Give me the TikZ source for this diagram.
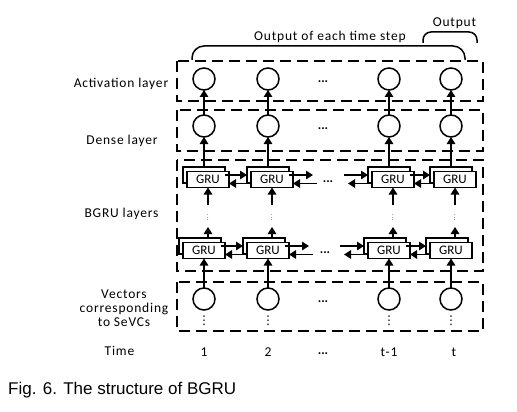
\documentclass[tikz,border=0pt]{standalone}
\usepackage{fontspec}
\setmainfont{Carlito}
\newfontfamily\spacedfont{Carlito}[LetterSpace=6]
\newfontfamily\captionfont{Liberation Sans}
\newfontfamily\symfont{DejaVu Sans}
\usetikzlibrary{positioning,arrows.meta}

\begin{document}
\begin{tikzpicture}[
    x=1pt, y=1pt,
    unit/.style={circle, draw, line width=1.5pt, minimum size=22pt, inner sep=0pt, outer sep=0pt},
    gruback/.style={rectangle, draw, fill=white, line width=1.5pt, minimum width=42pt, minimum height=16pt, inner sep=0pt, outer sep=0pt},
    grufront/.style={gruback, font=\fontsize{13}{13}\selectfont},
    layer/.style={draw, line width=1.8pt, dash pattern=on 11pt off 6pt},
    rowname/.style={font=\spacedfont\fontsize{13.5}{14}\selectfont, align=center, inner sep=0pt},
    tick/.style={font=\spacedfont\fontsize{13.5}{14}\selectfont, inner sep=0pt, outer sep=0pt, text height=9pt, text depth=2pt},
    hdots/.style={font=\bfseries\fontsize{13}{13}\selectfont, inner sep=0pt, outer sep=0pt, minimum width=12pt, text height=9pt, text depth=3pt},
    vgap/.style={inner sep=0pt, outer sep=0pt, minimum width=4pt, minimum height=22pt},
    vtail/.style={font=\symfont\fontsize{12}{12}\selectfont, inner sep=0pt, outer sep=0pt},
    brace/.style={line width=1.5pt},
    captext/.style={font=\captionfont\fontsize{17}{17}\selectfont, inner sep=0pt, anchor=base west},
    arrow/.style={-{Triangle[length=7pt,width=8.5pt]}, line width=1.5pt}
]
\useasboundingbox (0,0) rectangle (517,-412);

% Layer frames
\draw[layer] (177,-61) rectangle (483,-101);
\draw[layer] (177,-110) rectangle (483,-151);
\draw[layer] (177,-160) rectangle (483,-271);
\draw[layer] (177,-282) rectangle (483,-331);

% Row 1: activation layer
\node[unit] (act1) at (204,-79) {};
\node[unit, right=42pt of act1] (act2) {};
\node[unit, right=99pt of act2] (act3) {};
\node[unit, right=40pt of act3] (act4) {};
\node[hdots, right=38pt of act2] (actdots) {...};

% Row 2: dense layer
\node[unit, below=25pt of act1] (dense1) {};
\node[unit, below=25pt of act2] (dense2) {};
\node[unit, below=25pt of act3] (dense3) {};
\node[unit, below=25pt of act4] (dense4) {};
\node[hdots, below=35pt of actdots] (densedots) {...};

% Row 5: vectors of the SeVCs
\node[unit, below=151pt of dense1] (vec1) {};
\node[unit, below=151pt of dense2] (vec2) {};
\node[unit, below=151pt of dense3] (vec3) {};
\node[unit, below=151pt of dense4] (vec4) {};
\node[hdots, below=161pt of densedots] (vecdots) {...};
\node[vtail, below=6pt of vec1] (tail1) {⋮};
\node[vtail, below=6pt of vec2] (tail2) {⋮};
\node[vtail, below=6pt of vec3] (tail3) {⋮};
\node[vtail, below=6pt of vec4] (tail4) {⋮};

% Row 3: upper BGRU layer (back copy, then front box)
\node[gruback, below=30pt of dense1] (tb1) {};
\node[grufront, xshift=4pt, yshift=-4.5pt] (tf1) at (tb1) {GRU};
\node[gruback, below=30pt of dense2] (tb2) {};
\node[grufront, xshift=4pt, yshift=-4.5pt] (tf2) at (tb2) {GRU};
\node[gruback, below=30pt of dense3] (tb3) {};
\node[grufront, xshift=4pt, yshift=-4.5pt] (tf3) at (tb3) {GRU};
\node[gruback, below=30pt of dense4] (tb4) {};
\node[grufront, xshift=4pt, yshift=-4.5pt] (tf4) at (tb4) {GRU};
\node[hdots, right=29pt of tf2] (topdots) {...};

% Row 4: lower BGRU layer
\node[gruback, above=34pt of vec1, xshift=-4pt] (bb1) {};
\node[grufront, xshift=4pt, yshift=-4.5pt] (bf1) at (bb1) {GRU};
\node[gruback, above=34pt of vec2, xshift=-4pt] (bb2) {};
\node[grufront, xshift=4pt, yshift=-4.5pt] (bf2) at (bb2) {GRU};
\node[gruback, above=34pt of vec3, xshift=-4pt] (bb3) {};
\node[grufront, xshift=4pt, yshift=-4.5pt] (bf3) at (bb3) {GRU};
\node[gruback, above=34pt of vec4, xshift=-4pt] (bb4) {};
\node[grufront, xshift=4pt, yshift=-4.5pt] (bf4) at (bb4) {GRU};
\node[hdots, right=30pt of bf2] (botdots) {...};

% Stacked layers in between
\node[vgap, below=17.5pt of tf1] (mid1) {\scalebox{0.6}{$\vdots$}};
\node[vgap, below=17.5pt of tf2] (mid2) {\scalebox{0.6}{$\vdots$}};
\node[vgap, below=17.5pt of tf3] (mid3) {\scalebox{0.6}{$\vdots$}};
\node[vgap, below=17.5pt of tf4] (mid4) {\scalebox{0.6}{$\vdots$}};

% Open ends next to the dots
\coordinate[right=24pt of tb2] (tbout);
\coordinate[right=24pt of tf2, yshift=-4pt] (tfin);
\coordinate[left=24pt of tb3] (tbin);
\coordinate[left=24pt of tf3, yshift=-4pt] (tfout);
\coordinate[right=24pt of bb2] (bbout);
\coordinate[right=24pt of bf2, yshift=-4pt] (bfin);
\coordinate[left=24pt of bb3] (bbin);
\coordinate[left=24pt of bf3, yshift=-4pt] (bfout);

% Upward flow in each column
\draw[arrow] (vec1.north) -- (vec1.north |- bf1.south);
\draw[arrow] (vec2.north) -- (vec2.north |- bf2.south);
\draw[arrow] (vec3.north) -- (vec3.north |- bf3.south);
\draw[arrow] (vec4.north) -- (vec4.north |- bf4.south);
\draw[arrow] (bb1.north -| mid1) -- (mid1.south);
\draw[arrow] (bb2.north -| mid2) -- (mid2.south);
\draw[arrow] (bb3.north -| mid3) -- (mid3.south);
\draw[arrow] (bb4.north -| mid4) -- (mid4.south);
\draw[arrow] (mid1.north) -- (tf1.south);
\draw[arrow] (mid2.north) -- (tf2.south);
\draw[arrow] (mid3.north) -- (tf3.south);
\draw[arrow] (mid4.north) -- (tf4.south);
\draw[arrow] (tb1.north) -- (dense1.south);
\draw[arrow] (tb2.north) -- (dense2.south);
\draw[arrow] (tb3.north) -- (dense3.south);
\draw[arrow] (tb4.north) -- (dense4.south);
\draw[arrow] (dense1.north) -- (act1.south);
\draw[arrow] (dense2.north) -- (act2.south);
\draw[arrow] (dense3.north) -- (act3.south);
\draw[arrow] (dense4.north) -- (act4.south);

% Forward and backward links, upper layer
\draw[arrow] (tb1.east) -- (tb2.west);
\draw[arrow] ([yshift=-4pt]tf2.west) -- ([yshift=-4pt]tf1.east);
\draw[arrow] (tb2.east) -- (tbout);
\draw[arrow] (tfin) -- ([yshift=-4pt]tf2.east);
\draw[arrow] (tbin) -- (tb3.west);
\draw[arrow] ([yshift=-4pt]tf3.west) -- (tfout);
\draw[arrow] (tb3.east) -- (tb4.west);
\draw[arrow] ([yshift=-4pt]tf4.west) -- ([yshift=-4pt]tf3.east);

% Forward and backward links, lower layer
\draw[arrow] (bb1.east) -- (bb2.west);
\draw[arrow] ([yshift=-4pt]bf2.west) -- ([yshift=-4pt]bf1.east);
\draw[arrow] (bb2.east) -- (bbout);
\draw[arrow] (bfin) -- ([yshift=-4pt]bf2.east);
\draw[arrow] (bbin) -- (bb3.west);
\draw[arrow] ([yshift=-4pt]bf3.west) -- (bfout);
\draw[arrow] (bb3.east) -- (bb4.west);
\draw[arrow] ([yshift=-4pt]bf4.west) -- ([yshift=-4pt]bf3.east);

% Time axis
\node[tick, below=37pt of vec1] (time1) {1};
\node[tick, below=37pt of vec2] (time2) {2};
\node[tick, below=37pt of vec3] (time3) {t-1};
\node[tick, below=37pt of vec4, xshift=3pt] (time4) {t};
\node[hdots, below=40pt of vecdots] (timedots) {...};

% Row names
\node[rowname] (actname) at (121,-84) {Activation layer};
\node[rowname] (densename) at (122,-141) {Dense layer};
\node[rowname] (bgruname) at (121.5,-214) {BGRU layers};
\node[rowname] (vecname) at (124,-308.5) {Vectors\\corresponding\\to SeVCs};
\node[rowname] (timename) at (119.5,-351) {Time};

% Output braces
\draw[brace, rounded corners=12pt] (192,-60) -- (192,-46) -- (465,-46) -- (465,-60);
\draw[brace, rounded corners=8pt] (423,-43) -- (423,-32) -- (477,-32) -- (477,-43);
\node[rowname] (stepname) at (330,-37) {Output of each time step};
\node[rowname] (outname) at (454.5,-23) {Output};

% Caption
\node[captext] (caption) at (8,-394) {Fig. 6. The structure of BGRU};

\end{tikzpicture}
\end{document}
